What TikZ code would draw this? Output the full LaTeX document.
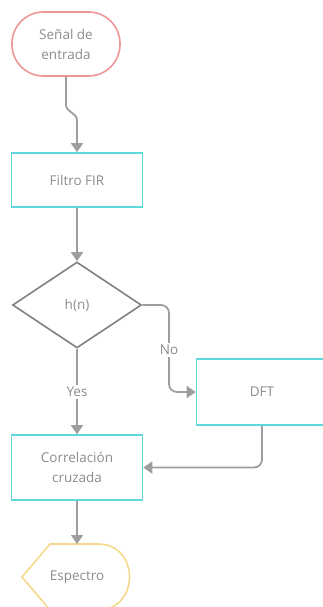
\documentclass[tikz,border=0pt]{standalone}
\usepackage{fontspec}
\setmainfont{Open Sans}
\usetikzlibrary{shapes.geometric,calc,arrows.meta}
\definecolor{pinkb}{RGB}{238,150,150}
\definecolor{cyanb}{RGB}{94,216,218}
\definecolor{yellowb}{RGB}{246,216,138}
\definecolor{txtgray}{RGB}{140,140,140}
\definecolor{linegray}{RGB}{158,158,158}
\definecolor{diagray}{RGB}{128,128,128}
\begin{document}
\begin{tikzpicture}[x=1pt,y=1pt,
  every node/.style={font=\fontsize{13.5}{20}\selectfont, text=txtgray, align=center},
  procbox/.style={draw=cyanb, line width=1.6pt, minimum width=131, minimum height=54, inner sep=0pt},
  conn/.style={draw=linegray, line width=1.8pt, -{Triangle[length=9pt,width=12pt]}},
  lbl/.style={fill=white, inner sep=2pt}]
\useasboundingbox (0,0) rectangle (323,-607);
\clip (0,0) rectangle (323,-607);
\node[draw=pinkb, line width=1.6pt, rounded corners=31.5pt, minimum width=108, minimum height=64, inner sep=0pt] (start) at (66,-44) {Señal de\\entrada};
\node[procbox] (fir) at (77,-180) {Filtro FIR};
\node[draw=diagray, line width=1.6pt, diamond, minimum width=129, minimum height=86, inner sep=0pt] (dec) at (77,-305) {h(n)};
\node[procbox, minimum height=66] (dft) at (262,-392) {DFT};
\node[procbox, minimum height=65] (corr) at (77,-467.5) {Correlación\\cruzada};
\draw[draw=yellowb, line width=1.6pt] (22,-577) -- (50,-544) -- (98,-544) .. controls (140,-544) and (140,-610) .. (98,-610) -- (50,-610) -- cycle;
\node (out) at (77,-577) {Espectro};
\coordinate (outtop) at (77,-544);
\draw[conn] (start.south) -- ++(0,-28) to[out=-90,in=90] ($(fir.north)+(0,32)$) -- (fir.north);
\draw[conn] (fir.south) -- (dec.north);
\draw[conn, rounded corners=8pt] (dec.east) -- (169,-305) -- (169,-392) -- (dft.west);
\node[lbl] at (169,-350) {No};
\draw[conn] (dec.south) -- (corr.north);
\node[lbl] at (77,-392) {Yes};
\draw[conn, rounded corners=8pt] (dft.south) |- (corr.east);
\draw[conn] (corr.south) -- (outtop);
\end{tikzpicture}
\end{document}
